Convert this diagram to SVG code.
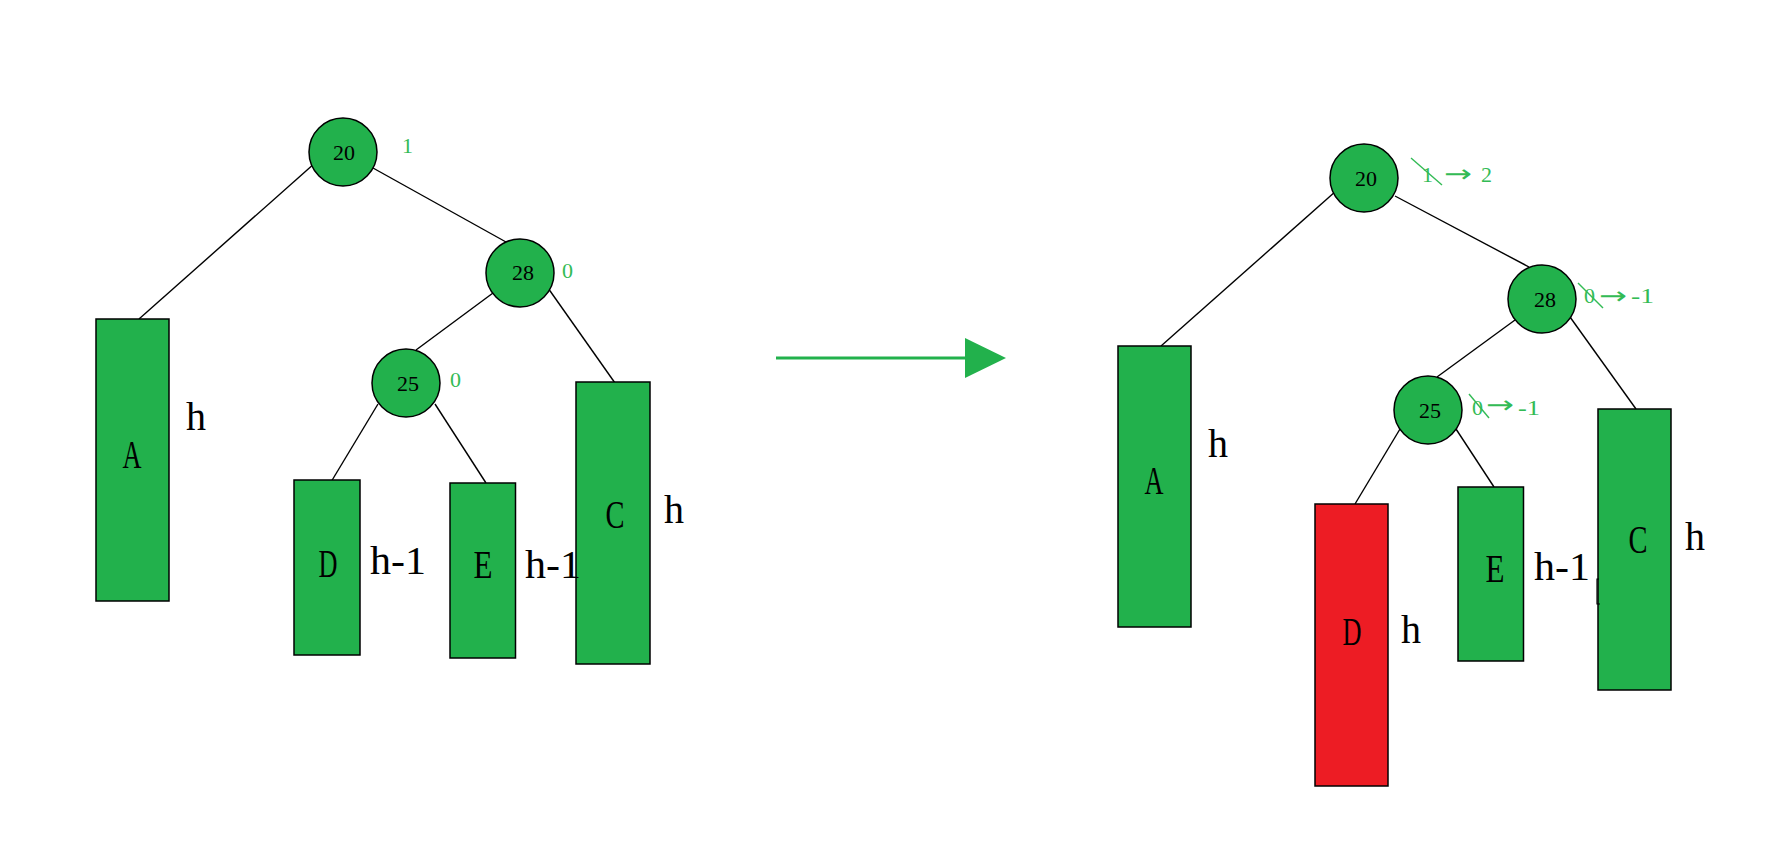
<svg xmlns="http://www.w3.org/2000/svg" width="1783" height="853" viewBox="0 0 1783 853">
<style>
.nd{fill:#22b14c;stroke:#000;stroke-width:1.5}
.red{fill:#ed1c24;stroke:#000;stroke-width:1.5}
.edge{stroke:#000;stroke-width:1.4;fill:none}
.num{font-family:"Liberation Serif",serif;font-size:22px;fill:#000;text-anchor:middle}
.big{font-family:"Liberation Serif",serif;font-size:40px;fill:#000}
.bigc{font-family:"Liberation Serif",serif;font-size:40px;fill:#000;text-anchor:middle}
.bf{font-family:"Liberation Serif",serif;font-size:22px;fill:#33bb55}
.arr{font-family:"DejaVu Sans",sans-serif;font-size:24px;fill:#33bb55}
.strike{stroke:#33bb55;stroke-width:1.4}
</style>
<rect width="1783" height="853" fill="#fff"/>
<g id="connectors">
  <line class="edge" x1="315" y1="163" x2="139" y2="319"/>
  <line class="edge" x1="373" y1="168" x2="506" y2="242"/>
  <line class="edge" x1="493" y1="293" x2="416" y2="350"/>
  <line class="edge" x1="548" y1="288" x2="615" y2="383"/>
  <line class="edge" x1="378" y1="404" x2="331" y2="482"/>
  <line class="edge" x1="435" y1="404" x2="486" y2="483"/>
  <line class="edge" x1="1336" y1="191" x2="1161" y2="346"/>
  <line class="edge" x1="1395" y1="196" x2="1529" y2="267"/>
  <line class="edge" x1="1515" y1="320" x2="1437" y2="377"/>
  <line class="edge" x1="1570" y1="317" x2="1636" y2="409"/>
  <line class="edge" x1="1400" y1="429" x2="1355" y2="504"/>
  <line class="edge" x1="1456" y1="429" x2="1494" y2="487"/>
  <line x1="776" y1="358" x2="966" y2="358" stroke="#22b14c" stroke-width="3"/>
  <polygon points="965,338 965,378 1006,358" fill="#22b14c"/>
</g>
<g id="L-n20"><circle class="nd" cx="343" cy="152" r="34"/><text class="num" x="344" y="160" textLength="22" lengthAdjust="spacingAndGlyphs">20</text></g>
<g id="L-n20-bf"><text class="bf" x="402" y="153">1</text></g>
<g id="L-n28"><circle class="nd" cx="520" cy="273" r="34"/><text class="num" x="523" y="280" textLength="22" lengthAdjust="spacingAndGlyphs">28</text></g>
<g id="L-n28-bf"><text class="bf" x="562" y="278">0</text></g>
<g id="L-n25"><circle class="nd" cx="406" cy="383" r="34"/><text class="num" x="408" y="391" textLength="22" lengthAdjust="spacingAndGlyphs">25</text></g>
<g id="L-n25-bf"><text class="bf" x="450" y="387">0</text></g>
<g id="L-A"><rect class="nd" x="96" y="319" width="73" height="282"/><text class="bigc" x="132" y="468" textLength="19" lengthAdjust="spacingAndGlyphs">A</text><text class="big" x="186" y="430">h</text></g>
<g id="L-D"><rect class="nd" x="294" y="480" width="66" height="175"/><text class="bigc" x="328" y="577" textLength="19" lengthAdjust="spacingAndGlyphs">D</text><text class="big" x="370" y="574" textLength="56" lengthAdjust="spacingAndGlyphs">h-1</text></g>
<g id="L-E"><rect class="nd" x="450" y="483" width="65.5" height="175"/><text class="bigc" x="483" y="578" textLength="19" lengthAdjust="spacingAndGlyphs">E</text></g>
<g id="L-C"><rect class="nd" x="576" y="382" width="74" height="282"/><text class="bigc" x="615" y="528" textLength="19" lengthAdjust="spacingAndGlyphs">C</text><text class="big" x="664" y="523">h</text></g>
<g id="L-E-label"><text class="big" x="525" y="578" textLength="56" lengthAdjust="spacingAndGlyphs">h-1</text></g>
<g id="R-n20"><circle class="nd" cx="1364" cy="178" r="34"/><text class="num" x="1366" y="186" textLength="22" lengthAdjust="spacingAndGlyphs">20</text></g>
<g id="R-n20-bf"><text class="bf" x="1422" y="182">1</text><line class="strike" x1="1411" y1="158" x2="1442" y2="185"/><text class="arr" x="1444" y="182" textLength="28" lengthAdjust="spacingAndGlyphs">→</text><text class="bf" x="1481" y="182">2</text></g>
<g id="R-n28"><circle class="nd" cx="1542" cy="299" r="34"/><text class="num" x="1545" y="307" textLength="22" lengthAdjust="spacingAndGlyphs">28</text></g>
<g id="R-n28-bf"><text class="bf" x="1584" y="303">0</text><line class="strike" x1="1578" y1="283" x2="1603" y2="308"/><text class="arr" x="1599" y="304" textLength="28" lengthAdjust="spacingAndGlyphs">→</text><text class="bf" x="1631" y="303" textLength="23" lengthAdjust="spacingAndGlyphs">-1</text></g>
<g id="R-n25"><circle class="nd" cx="1428" cy="410" r="34"/><text class="num" x="1430" y="418" textLength="22" lengthAdjust="spacingAndGlyphs">25</text></g>
<g id="R-n25-bf"><text class="bf" x="1472" y="415">0</text><line class="strike" x1="1469" y1="394" x2="1489" y2="418"/><text class="arr" x="1486" y="413" textLength="28" lengthAdjust="spacingAndGlyphs">→</text><text class="bf" x="1518" y="415" textLength="22" lengthAdjust="spacingAndGlyphs">-1</text></g>
<g id="R-A"><rect class="nd" x="1118" y="346" width="73" height="281"/><text class="bigc" x="1154" y="494" textLength="19" lengthAdjust="spacingAndGlyphs">A</text><text class="big" x="1208" y="457">h</text></g>
<g id="R-D"><rect class="red" x="1315" y="504" width="73" height="282"/><text class="bigc" x="1352" y="645" textLength="19" lengthAdjust="spacingAndGlyphs">D</text><text class="big" x="1401" y="643">h</text></g>
<g id="R-E"><rect class="nd" x="1458" y="487" width="65.5" height="174"/><text class="bigc" x="1495" y="582" textLength="19" lengthAdjust="spacingAndGlyphs">E</text><text class="big" x="1534" y="580" textLength="56" lengthAdjust="spacingAndGlyphs">h-1</text></g>
<g id="R-C"><rect class="nd" x="1598" y="409" width="73" height="281"/><text class="bigc" x="1638" y="553" textLength="19" lengthAdjust="spacingAndGlyphs">C</text><text class="big" x="1685" y="550">h</text><path d="M1599,579 L1597,579 L1597,604 L1600,604" stroke="#000" stroke-width="1.2" fill="none"/></g>
</svg>
